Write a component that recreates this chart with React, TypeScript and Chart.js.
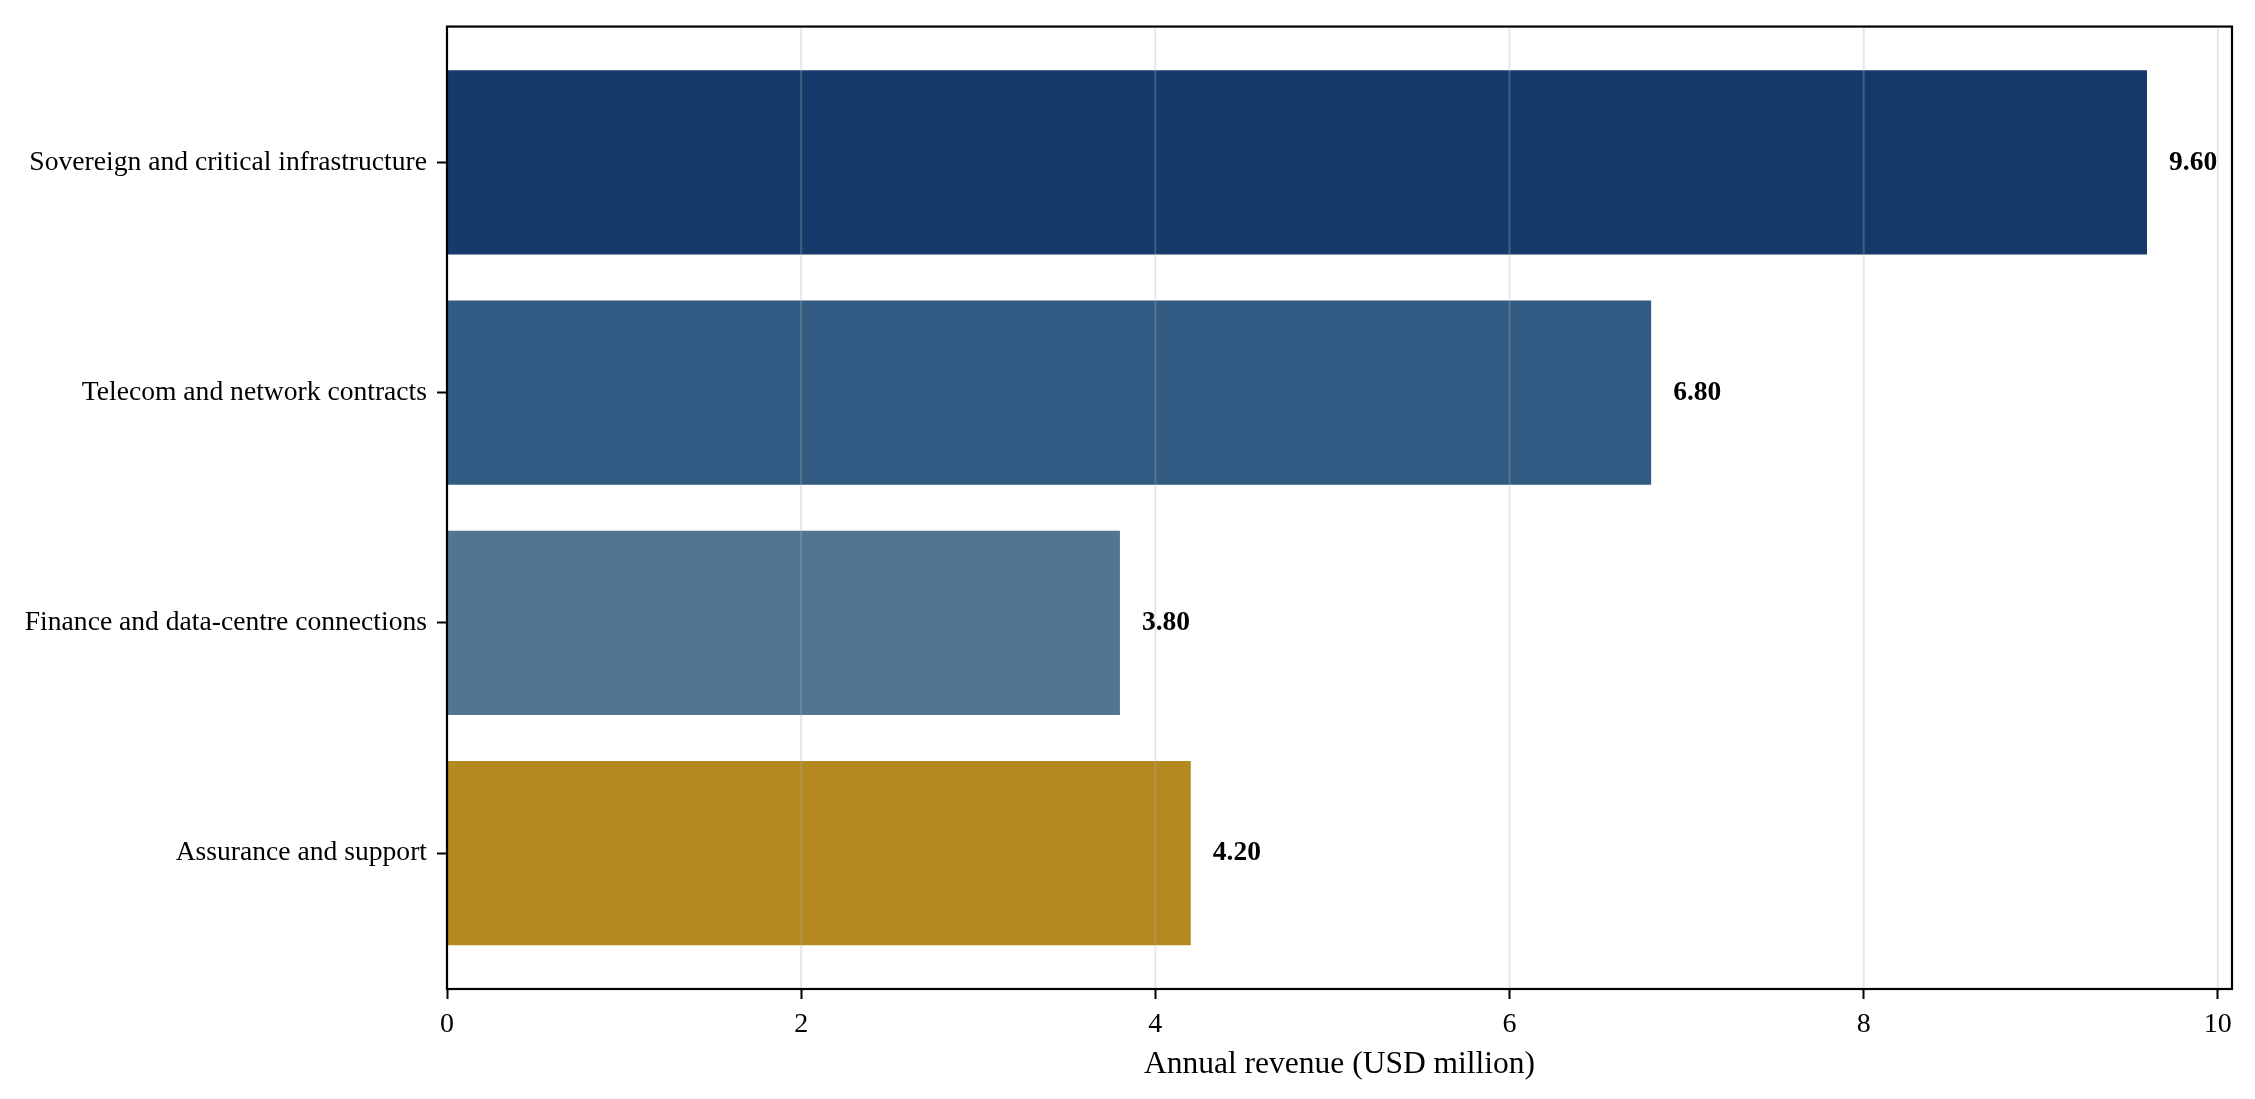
import React, { useEffect, useRef } from "react";
import { Chart, registerables } from "chart.js";

Chart.register(...registerables);

const categories = [
  "Sovereign and critical infrastructure",
  "Telecom and network contracts",
  "Finance and data-centre connections",
  "Assurance and support",
];
const revenue = [9.6, 6.8, 3.8, 4.2];
const barColors = ["#143A69", "#315B82", "#527591", "#B38920"];
const xTickValues = [0, 2, 4, 6, 8, 10];
const xTitle = "Annual revenue (USD million)";

const FONT = "'Liberation Serif', 'Times New Roman', 'DejaVu Serif', serif";

export default function App() {
  const canvasRef = useRef<HTMLCanvasElement | null>(null);

  useEffect(() => {
    const canvas = canvasRef.current;
    if (!canvas) return;

    const overlayPlugin = {
      id: "overlay",
      afterDatasetsDraw(chart: any) {
        const { ctx, chartArea } = chart;
        const xs = chart.scales.x;
        ctx.save();
        // grid lines above bars
        ctx.strokeStyle = "rgba(176,176,176,0.3)";
        ctx.lineWidth = 2;
        xs.ticks.forEach((t: any) => {
          const px = xs.getPixelForValue(t.value);
          ctx.beginPath();
          ctx.moveTo(px, chartArea.top);
          ctx.lineTo(px, chartArea.bottom);
          ctx.stroke();
        });
        // value labels
        const meta = chart.getDatasetMeta(0);
        ctx.fillStyle = "#000";
        ctx.font = `bold 27.5px ${FONT}`;
        ctx.textAlign = "left";
        ctx.textBaseline = "middle";
        meta.data.forEach((el: any, i: number) => {
          ctx.fillText(revenue[i].toFixed(2), el.x + 22, el.y);
        });
        // frame
        ctx.strokeStyle = "#000";
        ctx.lineWidth = 2.2;
        ctx.strokeRect(
          chartArea.left,
          chartArea.top,
          chartArea.right - chartArea.left,
          chartArea.bottom - chartArea.top
        );
        ctx.restore();
      },
    };

    const chart = new Chart(canvas, {
      type: "bar",
      data: {
        datasets: [
          {
            data: revenue.map((v, i) => ({ x: v, y: i })),
            backgroundColor: barColors,
            borderWidth: 0,
            barPercentage: 0.8,
            categoryPercentage: 1,
          },
        ],
      },
      options: {
        indexAxis: "y",
        animation: false,
        responsive: true,
        maintainAspectRatio: false,
        devicePixelRatio: 1,
        layout: { padding: { top: 21, right: 23, left: 0, bottom: 0 } },
        plugins: {
          legend: { display: false },
          tooltip: { enabled: false },
        },
        scales: {
          x: {
            type: "linear",
            min: 0,
            max: 10.08,
            offset: false,
            afterBuildTicks: (scale: any) => {
              scale.ticks = xTickValues.map((v) => ({ value: v }));
            },
            afterFit: (scale: any) => {
              scale.height = 110;
            },
            border: { display: false },
            grid: {
              offset: false,
              drawOnChartArea: false,
              drawTicks: true,
              tickLength: 10,
              tickColor: "#000",
              tickWidth: 2,
            },
            ticks: {
              color: "#000",
              padding: 9,
              font: { family: FONT, size: 28 },
              callback: (v: any) => String(v),
              maxRotation: 0,
            },
            title: {
              display: true,
              text: xTitle,
              color: "#000",
              font: { family: FONT, size: 31.5 },
              padding: { top: 0, bottom: 15 },
            },
          },
          y: {
            type: "linear",
            min: -0.59,
            max: 3.59,
            reverse: true,
            offset: false,
            afterBuildTicks: (scale: any) => {
              scale.ticks = categories.map((_, i) => ({ value: i }));
            },
            afterFit: (scale: any) => {
              scale.width = 447;
            },
            border: { display: false },
            grid: {
              offset: false,
              drawOnChartArea: false,
              drawTicks: true,
              tickLength: 10,
              tickColor: "#000",
              tickWidth: 2,
            },
            ticks: {
              color: "#000",
              padding: 10,
              font: { family: FONT, size: 27.6 },
              callback: (v: any) => categories[v] ?? "",
              autoSkip: false,
            },
          },
        },
      },
      plugins: [overlayPlugin],
    });

    return () => chart.destroy();
  }, []);

  return (
    <div
      style={{
        position: "fixed",
        left: 0,
        top: 0,
        width: 2255,
        height: 1099,
        background: "#fff",
      }}
    >
      <canvas ref={canvasRef} />
    </div>
  );
}
